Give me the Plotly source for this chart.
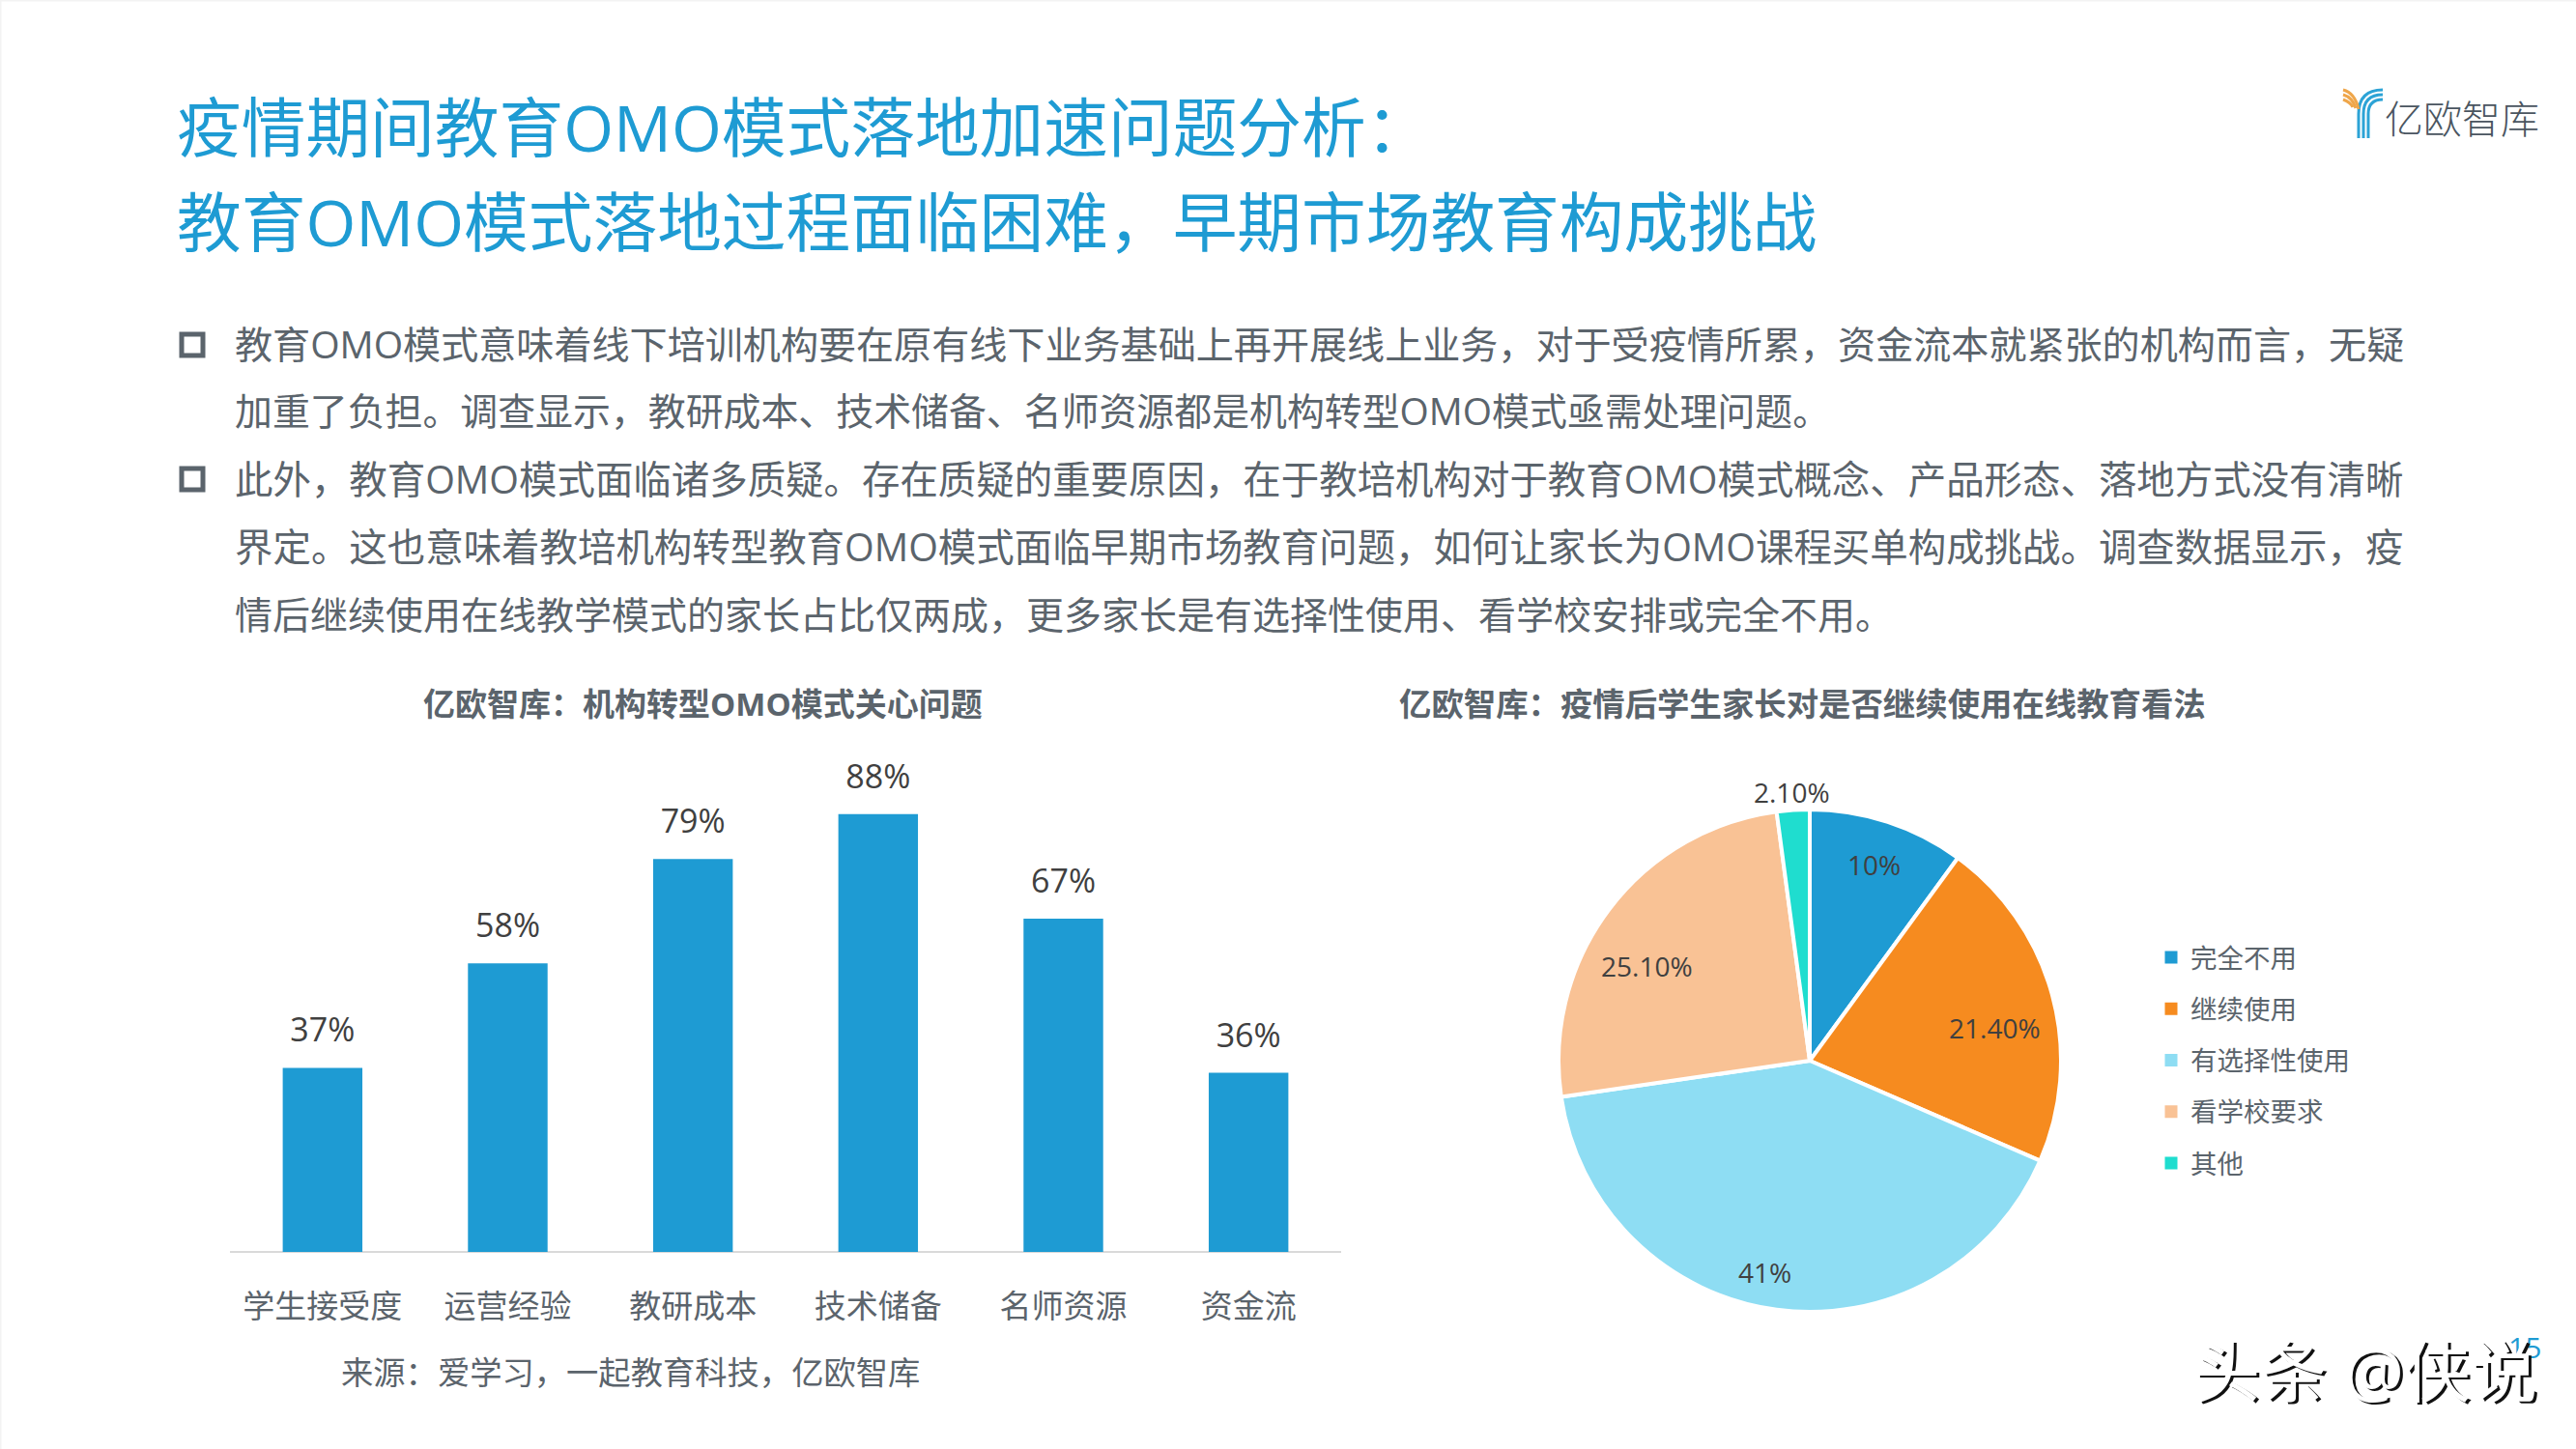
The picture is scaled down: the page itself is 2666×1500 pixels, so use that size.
import math
import plotly.graph_objects as go

W, H = 2666, 1500

title_lines = ["疫情期间教育OMO模式落地加速问题分析：",
               "教育OMO模式落地过程面临困难，早期市场教育构成挑战"]
body_lines = ["教育OMO模式意味着线下培训机构要在原有线下业务基础上再开展线上业务，对于受疫情所累，资金流本就紧张的机构而言，无疑",
              "加重了负担。调查显示，教研成本、技术储备、名师资源都是机构转型OMO模式亟需处理问题。",
              "此外，教育OMO模式面临诸多质疑。存在质疑的重要原因，在于教培机构对于教育OMO模式概念、产品形态、落地方式没有清晰",
              "界定。这也意味着教培机构转型教育OMO模式面临早期市场教育问题，如何让家长为OMO课程买单构成挑战。调查数据显示，疫",
              "情后继续使用在线教学模式的家长占比仅两成，更多家长是有选择性使用、看学校安排或完全不用。"]

bar_title = "亿欧智库：机构转型OMO模式关心问题"
bar_cats = ["学生接受度", "运营经验", "教研成本", "技术储备", "名师资源", "资金流"]
bar_vals = [37, 58, 79, 88, 67, 36]
source_text = "来源：爱学习，一起教育科技，亿欧智库"

pie_title = "亿欧智库：疫情后学生家长对是否继续使用在线教育看法"
pie_labels = ["完全不用", "继续使用", "有选择性使用", "看学校要求", "其他"]
pie_vals = [10, 21.4, 41, 25.1, 2.1]
pie_text = ["10%", "21.40%", "41%", "25.10%", "2.10%"]

FONT = "Open Sans, Noto Sans CJK SC"
BLUE = "#1E9BD3"
GREY = "#5B646C"
pie_colors = ["#1E9BD3", "#F68B1F", "#8EDDF3", "#F9C295", "#1FDDCF"]

# body lines are justified in the slide, so each one gets its own size
body_y = [355.5, 424.5, 495.5, 565.5, 635.5]
body_size = [39.1, 38.9, 39.45, 39.45, 39.0]

# pie placement in pixels, label radius as a share of the pie radius and turn in degrees
PIE_X, PIE_Y, PIE_R = 1873, 1098, 260
label_r = [0.82, 0.75, 0.86, 0.75, 1.07]
label_turn = [0, 5, 4.3, -7, 0]


def px_x(x):
    return x / W


def px_y(y):
    return 1 - y / H


def label(x, y, text, size, color=GREY, anchor="left", weight=400, shadow="none"):
    return dict(x=px_x(x), y=px_y(y), xref="paper", yref="paper", text=text, showarrow=False,
                xanchor=anchor, yanchor="middle",
                font=dict(family=FONT, size=size, color=color, weight=weight, shadow=shadow))


fig = go.Figure()

# bars
fig.add_trace(go.Bar(x=bar_cats, y=bar_vals, marker=dict(color=BLUE, line=dict(width=0)), showlegend=False))
# the bar labels sit well above the bars, so they get their own invisible markers
fig.add_trace(go.Scatter(x=bar_cats, y=bar_vals, mode="markers+text", text=[f"{v}%" for v in bar_vals],
                         textposition="top center", marker=dict(size=28, opacity=0), cliponaxis=False,
                         textfont=dict(family=FONT, size=34, color="#404040"), showlegend=False))

# pie
fig.add_trace(go.Pie(labels=pie_labels, values=pie_vals, textinfo="none", sort=False,
                     direction="clockwise", rotation=0, showlegend=False,
                     marker=dict(colors=pie_colors, line=dict(color="white", width=4)),
                     domain=dict(x=[px_x(PIE_X - PIE_R), px_x(PIE_X + PIE_R)],
                                 y=[px_y(PIE_Y + PIE_R), px_y(PIE_Y - PIE_R)])))

# legend entries, one group per item so the row gap can be set
for name, color in zip(pie_labels, pie_colors):
    fig.add_trace(go.Scatter(x=[None], y=[None], mode="markers", name=name, legendgroup=name,
                             marker=dict(symbol="square", size=13, color=color)))

annotations = [label(181, 131.5, title_lines[0], 66.7, BLUE),
               label(181, 229.5, title_lines[1], 66.7, BLUE)]
for text, y, size in zip(body_lines, body_y, body_size):
    annotations.append(label(241, y, text, size))
annotations += [label(727, 728, bar_title, 33, anchor="center", weight=700),
                label(1865, 728, pie_title, 33.4, anchor="center", weight=700),
                label(351, 1420, source_text, 33.3),
                label(2466, 123, "亿欧智库", 40, "#4A5560", weight=300),
                label(2613, 1394, "15", 30, BLUE, anchor="center"),
                label(2268, 1419, "头条 @侠说", 69, "#FFFFFF", shadow="3px 2px 0px #111111")]

# pie value labels follow the slice middles
total = sum(pie_vals)
running = 0
for v, text, r, turn in zip(pie_vals, pie_text, label_r, label_turn):
    angle = math.radians((running + v / 2) / total * 360 + turn)
    running += v
    annotations.append(label(PIE_X + PIE_R * r * math.sin(angle), PIE_Y - PIE_R * r * math.cos(angle),
                             text, 28, "#404040", anchor="center"))

# faint slide edge along the top and left
shapes = [dict(type="line", xref="paper", yref="paper", x0=0, x1=1, y0=1, y1=1, line=dict(color="#F3F3F3", width=3)),
          dict(type="line", xref="paper", yref="paper", x0=0, x1=0, y0=0, y1=1, line=dict(color="#F3F3F3", width=3))]
for top in [344, 483]:
    shapes.append(dict(type="rect", xref="paper", yref="paper", x0=px_x(188), x1=px_x(210),
                       y0=px_y(top + 2), y1=px_y(top + 24), line=dict(color=GREY, width=5)))


# logo strands
def strand(path, color, width):
    return dict(type="path", xref="paper", yref="paper", path=path, line=dict(color=color, width=width))


def p(x, y):
    return f"{px_x(x)},{px_y(y)}"


for i, x in enumerate([2441, 2446, 2451]):
    top = 93 + 5 * i
    shapes.append(strand(f"M{p(x, 143)} L{p(x, 118)} Q{p(x, top)} {p(2466, top)}", "#2CA3D6", 3))
for i in range(3):
    top = 93 + 5 * i
    shapes.append(strand(f"M{p(2425, top)} Q{p(2437 - 2 * i, top + 3)} {p(2441 - 3 * i, 113 - i)}", "#EFA64A", 3))

fig.update_layout(
    width=W, height=H, margin=dict(l=0, r=0, t=0, b=0), paper_bgcolor="white", plot_bgcolor="white",
    bargap=0.57, annotations=annotations, shapes=shapes,
    xaxis=dict(domain=[px_x(238), px_x(1388)], type="category", showgrid=False, zeroline=False, ticks="",
               showline=False, ticklabelstandoff=34, tickfont=dict(family=FONT, size=33, color=GREY)),
    yaxis=dict(domain=[px_y(1296), px_y(781)], range=[0, 100], showgrid=False, showticklabels=False,
               zeroline=True, zerolinecolor="#D9D9D9", zerolinewidth=2),
    legend=dict(x=px_x(2227), y=px_y(966.5), xanchor="left", yanchor="top", tracegroupgap=14.5, itemwidth=30,
                bgcolor="rgba(0,0,0,0)", font=dict(family=FONT, size=27.5, color=GREY)),
)

fig.write_html("out.html", config=dict(displayModeBar=False), post_script="document.body.style.margin='0';")
